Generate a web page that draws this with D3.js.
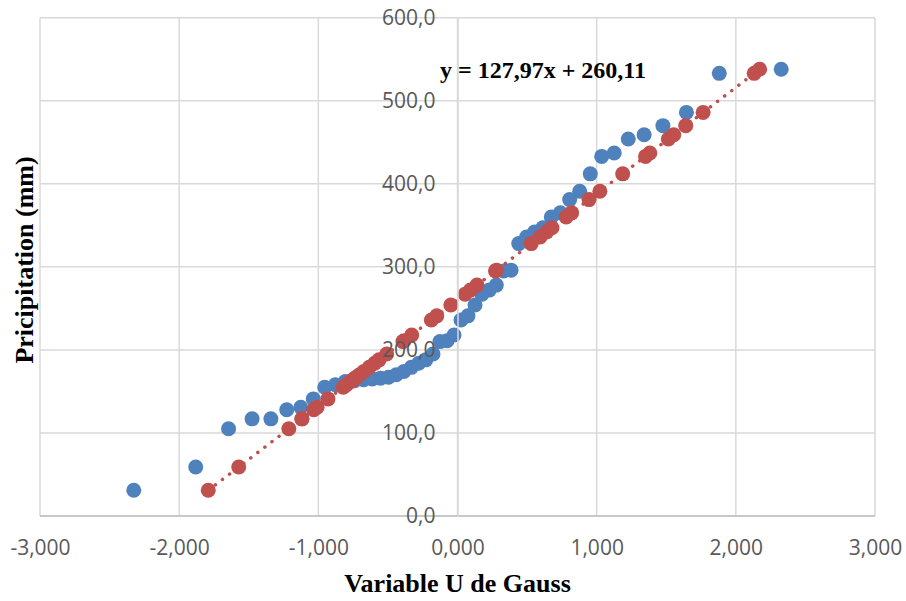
<!DOCTYPE html>
<html>
<head>
<meta charset="utf-8">
<script src="https://cdn.jsdelivr.net/npm/d3@7"></script>
<style>
    body { margin: 0; background: #fff; }
    .tick-label { font-family: "Open Sans", sans-serif; font-size: 21px; fill: #595959; }
    .title { font-family: "Liberation Serif", "Times New Roman", serif; font-weight: bold; fill: #000; }
</style>
</head>
<body>
<div id="chart"></div>
<script>

// Gauss variable U (observed series) and precipitation (mm), sorted ascending
const gaussU = [
    -2.326, -1.881, -1.645, -1.476, -1.341, -1.227, -1.126, -1.036, -0.954, -0.878,
    -0.806, -0.739, -0.674, -0.613, -0.553, -0.496, -0.440, -0.385, -0.332, -0.279,
    -0.228, -0.176, -0.126, -0.075, -0.025, 0.025, 0.075, 0.126, 0.176, 0.228,
    0.279, 0.332, 0.385, 0.440, 0.496, 0.553, 0.613, 0.674, 0.739, 0.806,
    0.878, 0.954, 1.036, 1.126, 1.227, 1.341, 1.476, 1.645, 1.881, 2.326
];
const precipitation = [
    31, 59, 105, 117, 117, 128, 131, 141, 155, 158,
    162, 163, 164, 165, 166, 167, 170, 174, 179, 184,
    188, 195, 210, 211, 218, 236, 241, 254, 267, 272,
    278, 295, 296, 328, 336, 342, 347, 360, 365, 381,
    391, 412, 433, 437, 454, 459, 470, 486, 533, 538
];
// Fitted series (red), U values read on the trend line
const fittedU = [
    -1.791, -1.572, -1.212, -1.118, -1.118, -1.033, -1.009, -0.931, -0.821, -0.797,
    -0.767, -0.759, -0.751, -0.743, -0.735, -0.728, -0.704, -0.673, -0.634, -0.595,
    -0.564, -0.509, -0.392, -0.384, -0.329, -0.188, -0.149, -0.048, 0.054, 0.093,
    0.140, 0.273, 0.281, 0.530, 0.593, 0.640, 0.679, 0.781, 0.820, 0.945,
    1.023, 1.187, 1.351, 1.382, 1.515, 1.554, 1.640, 1.765, 2.132, 2.171
];

const slope = 127.97;
const intercept = 260.11;

const xTicks = [-3, -2, -1, 0, 1, 2, 3];
const yTicks = [0, 100, 200, 300, 400, 500, 600];

const xTitle = "Variable U de Gauss";
const yTitle = "Pricipitation (mm)";

const width = 906, height = 601;
const margin = {top: 17.7, right: 31, bottom: 85, left: 40};
const w = width - margin.left - margin.right;
const h = height - margin.top - margin.bottom;

const locale = d3.formatLocale({decimal: ",", thousands: ".", grouping: [3], currency: ["", ""], minus: "-"});

const svg = d3.select("#chart").append("svg")
    .attr("width", width)
    .attr("height", height);

const g = svg.append("g")
    .attr("transform", `translate(${margin.left}, ${margin.top})`);

const x = d3.scaleLinear().domain([-3, 3]).range([0, w]);
const y = d3.scaleLinear().domain([0, 600]).range([h, 0]);

// Gridlines
g.append("g")
    .attr("class", "grid")
    .selectAll("line.v")
    .data(xTicks)
    .join("line")
    .attr("x1", d => x(d)).attr("x2", d => x(d))
    .attr("y1", 0).attr("y2", h)
    .attr("stroke", "#d9d9d9")
    .attr("stroke-width", 1.5);

g.select(".grid")
    .selectAll("line.h")
    .data(yTicks)
    .join(enter => enter.append("line").attr("class", "h"))
    .attr("x1", 0).attr("x2", w)
    .attr("y1", d => y(d)).attr("y2", d => y(d))
    .attr("stroke", "#d9d9d9")
    .attr("stroke-width", 1.5);

// Axis lines
g.append("line")
    .attr("x1", 0).attr("x2", w)
    .attr("y1", y(0)).attr("y2", y(0))
    .attr("stroke", "#bfbfbf")
    .attr("stroke-width", 1.5);

const obs = precipitation.map((p, i) => ({u: gaussU[i], p: p}));
const fit = precipitation.map((p, i) => ({u: fittedU[i], p: p}));

// Observed series
g.append("g")
    .selectAll("circle")
    .data(obs)
    .join("circle")
    .attr("cx", d => x(d.u))
    .attr("cy", d => y(d.p))
    .attr("r", 7.5)
    .attr("fill", "#4f81bd");

// Fitted series
g.append("g")
    .selectAll("circle")
    .data(fit)
    .join("circle")
    .attr("cx", d => x(d.u))
    .attr("cy", d => y(d.p))
    .attr("r", 7.5)
    .attr("fill", "#c0504d");

// Linear trend line (round dots)
const uExtent = d3.extent(fittedU);
g.append("line")
    .attr("x1", x(uExtent[0])).attr("y1", y(slope * uExtent[0] + intercept))
    .attr("x2", x(uExtent[1])).attr("y2", y(slope * uExtent[1] + intercept))
    .attr("stroke", "#c0504d")
    .attr("stroke-width", 3.5)
    .attr("stroke-linecap", "round")
    .attr("stroke-dasharray", "0.1 8.8");

// Axes (labels only)
const xAxis = d3.axisBottom(x)
    .tickValues(xTicks)
    .tickSize(0)
    .tickPadding(24)
    .tickFormat(locale.format(".3f"));

const yAxis = d3.axisLeft(y)
    .tickValues(yTicks)
    .tickSize(0)
    .tickPadding(22)
    .tickFormat(locale.format(".1f"));

g.append("g")
    .attr("class", "x-axis")
    .attr("transform", `translate(0, ${h})`)
    .call(xAxis)
    .call(a => a.select(".domain").remove())
    .selectAll("text")
    .attr("class", "tick-label")
    .attr("fill", null);

g.append("g")
    .attr("class", "y-axis")
    .attr("transform", `translate(${x(0)}, 0)`)
    .call(yAxis)
    .call(a => a.select(".domain").attr("stroke", "#d9d9d9").attr("stroke-width", 1.5))
    .selectAll("text")
    .attr("class", "tick-label")
    .attr("fill", null);

g.selectAll(".x-axis, .y-axis").attr("font-family", null).attr("font-size", null);

// Equation
g.append("text")
    .attr("class", "title")
    .attr("x", 400)
    .attr("y", 78 - margin.top)
    .style("font-size", "24px")
    .text(`y = ${locale.format(".2f")(slope)}x + ${locale.format(".2f")(intercept)}`);

// Axis titles
svg.append("text")
    .attr("class", "title")
    .attr("x", margin.left + w / 2)
    .attr("y", 592)
    .attr("text-anchor", "middle")
    .style("font-size", "26px")
    .text(xTitle);

svg.append("text")
    .attr("class", "title")
    .attr("transform", "rotate(-90)")
    .attr("x", -260)
    .attr("y", 33)
    .attr("text-anchor", "middle")
    .style("font-size", "26px")
    .text(yTitle);

</script>
</body>
</html>
